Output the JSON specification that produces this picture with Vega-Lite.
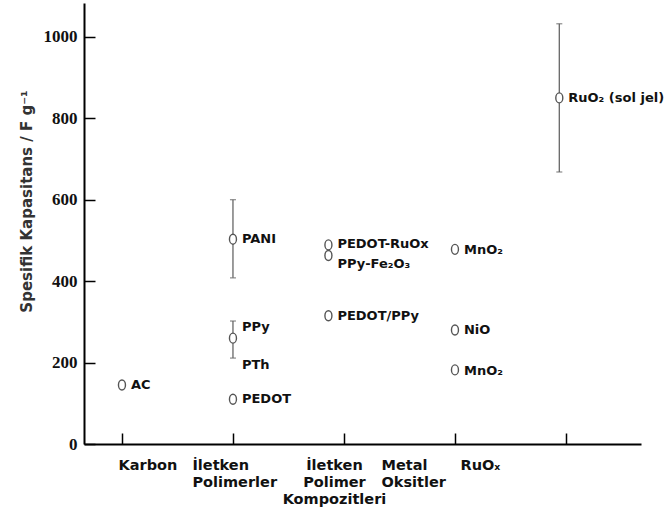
{
  "$schema": "https://vega.github.io/schema/vega-lite/v6.json",
  "width": 557,
  "height": 441,
  "autosize": "none",
  "padding": {"left": 84, "top": 3, "right": 25, "bottom": 73},
  "background": "white",
  "config": {"view": {"stroke": null}, "axis": {"grid": false}},
  "datasets": {
    "points": [
      {"cat": 1, "label": "AC", "v": 145},
      {"cat": 2, "label": "PANI", "v": 503, "lo": 408, "hi": 600},
      {"cat": 2, "label": "PPy", "v": 260, "lo": 211, "hi": 302},
      {"cat": 2, "label": "PEDOT", "v": 110},
      {"cat": 2.86, "label": "PEDOT-RuOx", "v": 489},
      {"cat": 2.86, "label": "PPy-Fe₂O₃", "v": 463},
      {"cat": 2.86, "label": "PEDOT/PPy", "v": 315},
      {"cat": 4, "label": "MnO₂", "v": 478},
      {"cat": 4, "label": "NiO", "v": 280},
      {"cat": 4, "label": "MnO₂", "v": 182},
      {"cat": 4.94, "label": "RuO₂ (sol jel)", "v": 850, "lo": 668, "hi": 1032}
    ],
    "labels": [
      {"cat": 1, "text": "AC", "v": 145},
      {"cat": 2, "text": "PANI", "v": 503},
      {"cat": 2, "text": "PPy", "v": 287},
      {"cat": 2, "text": "PTh", "v": 194},
      {"cat": 2, "text": "PEDOT", "v": 110},
      {"cat": 2.86, "text": "PEDOT-RuOx", "v": 491},
      {"cat": 2.86, "text": "PPy-Fe₂O₃", "v": 443},
      {"cat": 2.86, "text": "PEDOT/PPy", "v": 315},
      {"cat": 4, "text": "MnO₂", "v": 477},
      {"cat": 4, "text": "NiO", "v": 280},
      {"cat": 4, "text": "MnO₂", "v": 180},
      {"cat": 4.94, "text": "RuO₂ (sol jel)", "v": 850}
    ]
  },
  "layer": [
    {
      "data": {"name": "points"},
      "transform": [{"filter": "isValid(datum.lo)"}],
      "mark": {"type": "rule", "color": "#666", "strokeWidth": 1.3},
      "encoding": {
        "x": {
          "field": "cat", "type": "quantitative",
          "scale": {"domain": [0.658, 5.676], "nice": false, "zero": false},
          "axis": {
            "values": [1, 2, 3, 4, 5],
            "title": null,
            "domainColor": "#000", "domainWidth": 2,
            "tickColor": "#000", "tickWidth": 1.5, "tickSize": -11,
            "labelExpr": "datum.value == 1 ? 'Karbon' : datum.value == 2 ? ['İletken','Polimerler'] : datum.value == 3 ? ['İletken','Polimer','Kompozitleri'] : datum.value == 4 ? ['Metal','Oksitler'] : 'RuOₓ'",
            "labelAlign": {"condition": {"test": "datum.value == 3", "value": "center"}, "value": "left"},
            "labelOffset": {"condition": [
              {"test": "datum.value == 1", "value": -4},
              {"test": "datum.value == 2", "value": -41},
              {"test": "datum.value == 3", "value": -10},
              {"test": "datum.value == 4", "value": -74}
            ], "value": -106},
            "labelBaseline": "top",
            "labelPadding": 25,
            "labelFont": "DejaVu Sans", "labelFontWeight": "bold", "labelFontSize": 14.5,
            "labelColor": "#111", "labelLineHeight": 17,
            "labelFlush": false, "labelOverlap": false, "labelBound": false
          }
        },
        "y": {
          "field": "lo", "type": "quantitative",
          "scale": {"domain": [0, 1083], "nice": false},
          "axis": {
            "values": [0, 200, 400, 600, 800, 1000],
            "format": "d",
            "title": "Spesifik Kapasitans / F g⁻¹",
            "titleFont": "DejaVu Sans", "titleFontSize": 15, "titleFontWeight": "bold", "titleColor": "#333",
            "titleY": 198, "titlePadding": 9,
            "domainColor": "#000", "domainWidth": 2,
            "tickColor": "#000", "tickWidth": 1.5, "tickSize": -11,
            "labelFont": "Liberation Serif", "labelFontWeight": "bold", "labelFontSize": 17,
            "labelColor": "#111", "labelPadding": 18
          }
        },
        "y2": {"field": "hi"}
      }
    },
    {
      "data": {"name": "points"},
      "transform": [{"filter": "isValid(datum.lo)"}],
      "mark": {"type": "point", "shape": "stroke", "size": 36, "color": "#666", "strokeWidth": 1.3, "filled": false},
      "encoding": {
        "x": {"field": "cat", "type": "quantitative"},
        "y": {"field": "lo", "type": "quantitative"}
      }
    },
    {
      "data": {"name": "points"},
      "transform": [{"filter": "isValid(datum.hi)"}],
      "mark": {"type": "point", "shape": "stroke", "size": 36, "color": "#666", "strokeWidth": 1.3, "filled": false},
      "encoding": {
        "x": {"field": "cat", "type": "quantitative"},
        "y": {"field": "hi", "type": "quantitative"}
      }
    },
    {
      "data": {"name": "points"},
      "mark": {"type": "point", "shape": "M0,-1A0.7,1 0 1,1 0,1A0.7,1 0 1,1 0,-1Z", "size": 100, "filled": true, "fill": "white", "stroke": "#555", "strokeWidth": 1.4, "opacity": 1},
      "encoding": {
        "x": {"field": "cat", "type": "quantitative"},
        "y": {"field": "v", "type": "quantitative"}
      }
    },
    {
      "data": {"name": "labels"},
      "mark": {"type": "text", "align": "left", "baseline": "middle", "dx": 9, "font": "DejaVu Sans", "fontWeight": "bold", "fontSize": 13, "color": "#111"},
      "encoding": {
        "x": {"field": "cat", "type": "quantitative"},
        "y": {"field": "v", "type": "quantitative"},
        "text": {"field": "text"}
      }
    }
  ]
}
